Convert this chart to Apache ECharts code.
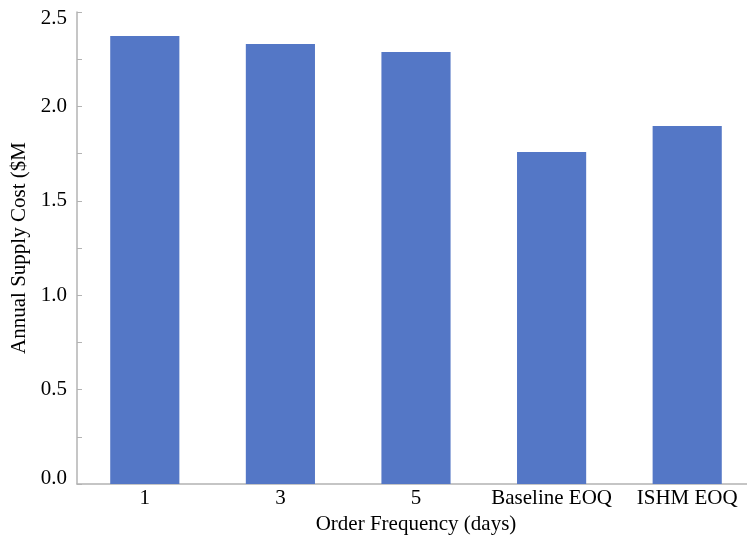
<!DOCTYPE html>
<html>
<head>
<meta charset="utf-8">
<script src="https://cdn.jsdelivr.net/npm/echarts@6/dist/echarts.min.js"></script>
<style>html,body{margin:0;padding:0;background:#fff;}#c{width:747px;height:537px;}</style>
</head>
<body>
<div id="c"></div>
<script>
const categories = ['1', '3', '5', 'Baseline EOQ', 'ISHM EOQ'];
const costs = [2.373, 2.331, 2.288, 1.758, 1.896];
const yTicks = { min: 0, max: 2.5, interval: 0.5 };

const font = 'Liberation Serif, Times New Roman, serif';
const labelStyle = { fontFamily: font, fontSize: 21, color: '#000' };
const chart = echarts.init(document.getElementById('c'), null, { renderer: 'canvas' });
chart.setOption({
  animation: false,
  backgroundColor: '#ffffff',
  grid: { left: 77, right: -8, top: 12, bottom: 53, containLabel: false, outerBoundsMode: 'none' },
  xAxis: {
    type: 'category',
    data: categories,
    name: 'Order Frequency (days)',
    nameLocation: 'middle',
    nameGap: 30,
    nameTextStyle: labelStyle,
    axisLine: { lineStyle: { color: '#b3b3b3', width: 1.5 } },
    axisTick: { show: false },
    axisLabel: Object.assign({ margin: 4, interval: 0 }, labelStyle)
  },
  yAxis: {
    type: 'value',
    min: yTicks.min, max: yTicks.max, interval: yTicks.interval,
    name: 'Annual Supply Cost ($M',
    nameLocation: 'middle',
    nameGap: 41,
    nameRotate: 90,
    nameTextStyle: labelStyle,
    axisLine: { show: true, lineStyle: { color: '#b3b3b3', width: 1.5 } },
    axisTick: { show: true, inside: true, length: 5, lineStyle: { color: '#b3b3b3' } },
    minorTick: { show: true, splitNumber: 2, length: 5, lineStyle: { color: '#b3b3b3' } },
    splitLine: { show: false },
    axisLabel: Object.assign({
      margin: 10,
      formatter: function (v) {
        const s = v.toFixed(1);
        if (v === yTicks.max) return '{top|' + s + '}';
        if (v === yTicks.min) return '{bot|' + s + '}';
        return s;
      },
      rich: {
        top: Object.assign({ padding: [12, 0, 0, 0] }, labelStyle),
        bot: Object.assign({ padding: [0, 0, 12, 0] }, labelStyle)
      }
    }, labelStyle)
  },
  series: [{
    type: 'bar',
    data: costs,
    barWidth: '51%',
    itemStyle: { color: '#5477c6' }
  }]
});
</script>
</body>
</html>
